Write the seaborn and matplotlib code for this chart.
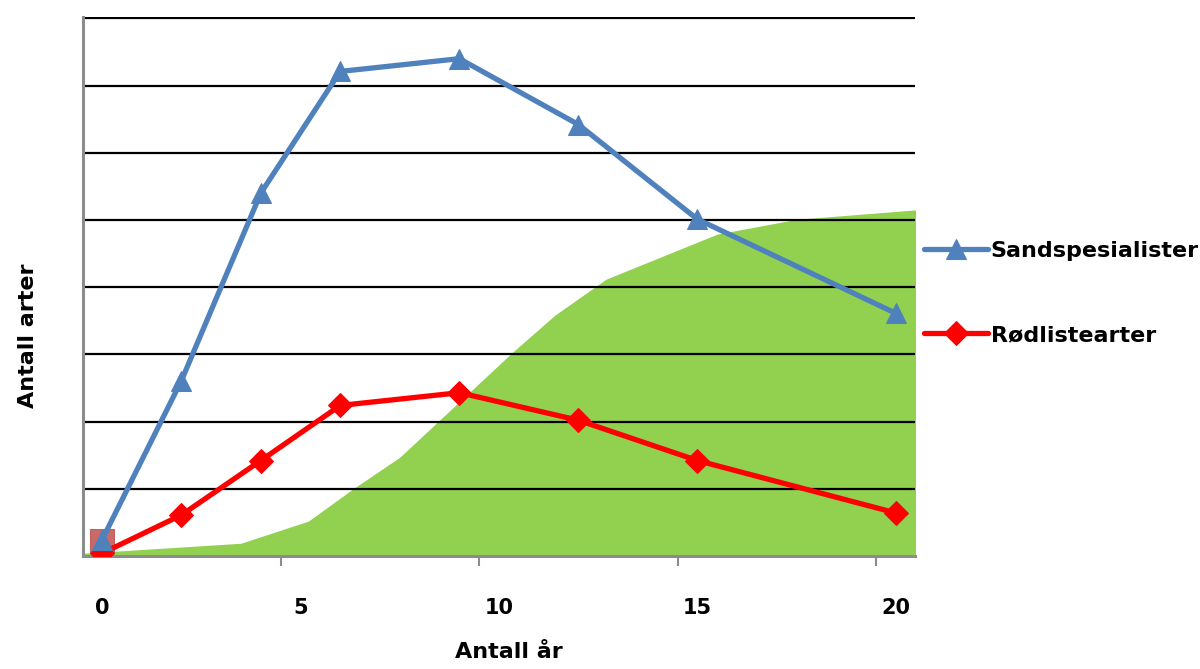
import matplotlib
matplotlib.use('Agg')
import matplotlib.pyplot as plt
import seaborn as sns

# data (y in grid-line units, no y labels shown)
years = [0, 2, 4, 6, 9, 12, 15, 20]
sand_specialists = [0.24, 2.61, 5.40, 7.21, 7.40, 6.42, 5.01, 3.61]
red_list = [0.04, 0.61, 1.42, 2.24, 2.43, 2.02, 1.42, 0.64]

# green background area (habitat)
area_x = [-0.5, 1.9, 3.5, 5.2, 6.3, 7.5, 8.5, 10.3, 11.4, 12.7, 15.5, 17.5, 20.5]
area_y = [0.04, 0.13, 0.19, 0.52, 0.99, 1.47, 2.02, 3.01, 3.58, 4.12, 4.79, 5.01, 5.15]

# lone square marker at the origin
extra_x = [0]
extra_y = [0.22]

tick_pos = [0, 5, 10, 15, 20]
tick_lab = ['0', '5', '10', '15', '20']
minor_pos = [4.5, 9.5, 14.5, 19.5]

sns.set_theme(style='white')
plt.rcParams['font.family'] = ['DejaVu Sans']
plt.rcParams['text.color'] = 'black'
plt.rcParams['xtick.color'] = 'black'

fig = plt.figure(figsize=(12, 6.69), dpi=100)
ax = fig.add_axes([83 / 1200, 1 - 556 / 669, (915 - 83) / 1200, (556 - 17) / 669])

ax.fill_between(area_x, area_y, 0, color='#92D050', linewidth=0, zorder=1)

sns.lineplot(x=extra_x, y=extra_y, marker='s', markersize=17, color='#C0504D',
             markeredgecolor='#C0504D', alpha=0.85, linestyle='none', ax=ax, zorder=3)
sns.lineplot(x=years, y=red_list, marker='D', markersize=12, color='#FF0000',
             markeredgecolor='#FF0000', linewidth=3.8, label='Rødlistearter', ax=ax, zorder=4)
sns.lineplot(x=years, y=sand_specialists, marker='^', markersize=15, color='#4F81BD',
             markeredgecolor='#4F81BD', linewidth=3.8, label='Sandspesialister', ax=ax, zorder=5)

ax.set_xlim(-0.48, 20.48)
ax.set_ylim(0, 8.02)
ax.set_yticks(range(1, 9))
ax.set_yticklabels([])
ax.tick_params(axis='y', length=0)
ax.set_axisbelow('line')
ax.yaxis.grid(True, color='black', linewidth=1.6)
ax.xaxis.grid(False)

ax.set_xticks(tick_pos)
ax.set_xticklabels(tick_lab, fontsize=15, fontweight='bold', color='black')
ax.set_xticks(minor_pos, minor=True)
ax.tick_params(axis='x', which='major', length=0, pad=30, labelcolor='black')
ax.tick_params(axis='x', which='minor', bottom=True, length=7, width=1.5, color='#8c8c8c')

for side in ['top', 'right']:
    ax.spines[side].set_visible(False)
for side in ['left', 'bottom']:
    ax.spines[side].set_color('#8c8c8c')
    ax.spines[side].set_linewidth(2.2)

ax.set_xlabel('')
ax.set_ylabel('')
fig.text(509 / 1200, 1 - 652 / 669, 'Antall år', fontsize=16, fontweight='bold',
         ha='center', va='center', color='black')
fig.text(28 / 1200, 1 - 336 / 669, 'Antall arter', fontsize=16, fontweight='bold',
         rotation=90, ha='center', va='center', color='black')

handles, labels = ax.get_legend_handles_labels()
ax.get_legend().remove()
order = [labels.index('Sandspesialister'), labels.index('Rødlistearter')]
leg = fig.legend([handles[i] for i in order], [labels[i] for i in order],
                 loc='center left', bbox_to_anchor=(924 / 1200, 1 - 293 / 669),
                 frameon=False, prop={'weight': 'bold', 'size': 16},
                 handlelength=2.9, handletextpad=0.1, labelspacing=2.9,
                 borderpad=0, borderaxespad=0)
for t in leg.get_texts():
    t.set_color('black')

fig.savefig('out.png', dpi=100)
